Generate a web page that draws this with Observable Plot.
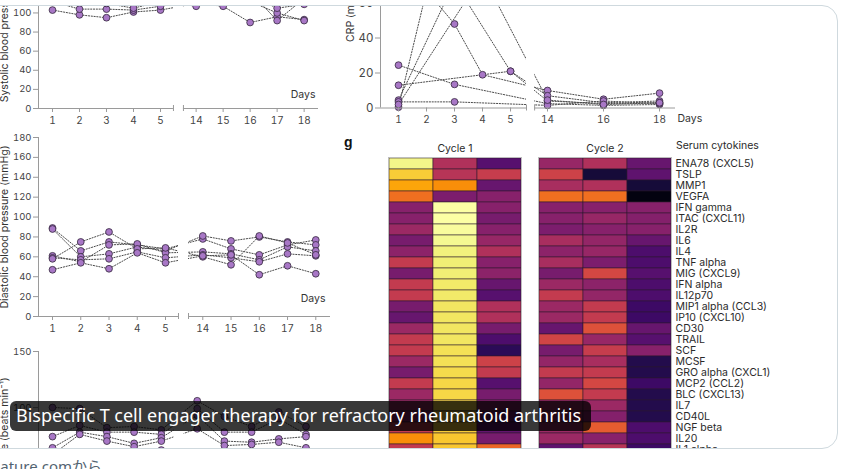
<!DOCTYPE html>
<html><head><meta charset="utf-8">
<script src="https://cdn.jsdelivr.net/npm/d3@7"></script>
<script src="https://cdn.jsdelivr.net/npm/@observablehq/plot@0.6"></script>
<style>
html,body{margin:0;padding:0;background:#fff;width:841px;height:469px;overflow:hidden;}
#stage{position:relative;width:841px;height:469px;overflow:hidden;font-family:Inter,"Noto Sans",sans-serif;}
#card{position:absolute;left:-20px;top:5px;width:858px;height:444px;border:1px solid #cfd9de;border-radius:16px;overflow:hidden;box-sizing:border-box;background:#fff;}
#fig{position:absolute;left:19px;top:-6px;width:841px;height:469px;}
#fig svg{position:absolute;overflow:visible;}
.txt{position:absolute;white-space:nowrap;}
#cap{position:absolute;left:10px;top:401px;width:581px;height:30px;background:rgba(0,0,0,0.78);border-radius:6px;color:#fff;font:18px "Noto Sans",sans-serif;line-height:29px;padding-left:6px;box-sizing:border-box;white-space:nowrap;overflow:hidden;}
#src{position:absolute;left:-9px;top:456px;font:15px "Noto Sans","Noto Sans CJK JP",sans-serif;color:#536471;line-height:20px;white-space:nowrap;}
</style></head>
<body><div id="stage">
<div id="card"><div id="fig"></div></div>
<div id="cap">Bispecific T cell engager therapy for refractory rheumatoid arthritis</div>
<div id="src">nature.comから</div>
</div>
<script>
// ---------- data ----------
const days = [1, 2, 3, 4, 5, 14, 15, 16, 17, 18];
const sysP1 = [103, 98, 95, 101, 103, 110, 107, 90, 96, 93];
const sysP2 = [112, 104, 104, 103, 107, 118, 114, 112, 100, 92];
const sysP3 = [120, 113, 110, 105, 112, 107, 120, 118, 105, 109];
const sysP4 = [128, 118, 124, 115, 120, 125, 128, 122, 92, 115];
const sysP5 = [135, 130, 122, 128, 131, 138, 130, 126, 118, 120];
const sysP6 = [118, 125, 116, 120, 118, 130, 122, 116, 122, 112];

const diaP1 = [89, 66, 75, 72, 68, 78, 68, 62, 72, 77];
const diaP2 = [88, 60, 63, 70, 66, 81, 76, 80, 75, 72];
const diaP3 = [61, 55, 72, 73, 64, 65, 63, 57, 70, 66];
const diaP4 = [59, 57, 58, 65, 59, 62, 59, 55, 63, 61];
const diaP5 = [58, 75, 85, 68, 69, 60, 52, 81, 74, 62];
const diaP6 = [47, 54, 48, 64, 54, 61, 62, 42, 51, 43];

const hrP1 = [100, 99, 82, 83, 80, 106, 92, 83, 96, 83];
const hrP2 = [74, 84, 78, 78, 76, 99, 78, 78, 90, 76];
const hrP3 = [64, 78, 74, 68, 73, 93, 70, 69, 72, 74];
const hrP4 = [58, 76, 70, 65, 70, 81, 66, 67, 69, 64];
const hrP5 = [55, 60, 58, 60, 62, 60, 58, 56, 60, 58];

const crpDays = [1, 2, 3, 4, 5, 14, 16, 18];
const crpP1 = [0.5, 67, 48, 19, null, 10, 5, 8.5];
const crpP2 = [4.5, null, 72, null, 21, 7, 3, 4];
const crpP3 = [24.5, null, 13.5, null, null, 2.5, 1.5, 2];
const crpP4 = [13, null, null, null, 21, 4, 2.5, 3];
const crpP5 = [3.5, null, 3.5, null, null, 1.5, 4, 2.5];
const crpP6 = [2, null, null, 76, null, 4.5, 2, 3];

const cytokines = ["ENA78 (CXCL5)", "TSLP", "MMP1", "VEGFA", "IFN gamma", "ITAC (CXCL11)", "IL2R", "IL6", "IL4",
  "TNF alpha", "MIG (CXCL9)", "IFN alpha", "IL12p70", "MIP1 alpha (CCL3)", "IP10 (CXCL10)", "CD30", "TRAIL", "SCF",
  "MCSF", "GRO alpha (CXCL1)", "MCP2 (CCL2)", "BLC (CXCL13)", "IL7", "CD40L", "NGF beta", "IL20", "IL1 alpha"];
const cycles = ["Cycle 1", "Cycle 2"];
const cyc1s1 = [0.97, 0.88, 0.80, 0.68, 0.37, 0.37, 0.42, 0.33, 0.38, 0.52, 0.33, 0.52, 0.52, 0.33, 0.29, 0.42, 0.52, 0.52, 0.42, 0.33, 0.52, 0.42, 0.42, 0.38, 0.52, 0.75, 0.52];
const cyc1s2 = [0.47, 0.49, 0.75, 0.34, 1.0, 1.0, 0.99, 0.98, 0.96, 0.95, 0.95, 0.94, 0.94, 0.93, 0.93, 0.93, 0.93, 0.92, 0.92, 0.91, 0.90, 0.90, 0.90, 0.89, 0.88, 0.87, 0.87];
const cyc1s3 = [0.25, 0.53, 0.29, 0.37, 0.37, 0.33, 0.37, 0.41, 0.47, 0.37, 0.38, 0.29, 0.25, 0.47, 0.47, 0.33, 0.23, 0.15, 0.55, 0.52, 0.25, 0.33, 0.36, 0.30, 0.28, 0.33, 0.66];
const cyc2s1 = [0.41, 0.55, 0.45, 0.68, 0.37, 0.37, 0.34, 0.45, 0.38, 0.45, 0.33, 0.42, 0.52, 0.42, 0.42, 0.29, 0.56, 0.33, 0.40, 0.52, 0.40, 0.60, 0.42, 0.40, 0.42, 0.42, 0.27];
const cyc2s2 = [0.47, 0.10, 0.47, 0.68, 0.37, 0.41, 0.37, 0.40, 0.41, 0.34, 0.57, 0.38, 0.40, 0.52, 0.52, 0.60, 0.41, 0.53, 0.45, 0.52, 0.57, 0.52, 0.42, 0.36, 0.63, 0.37, 0.49];
const cyc2s3 = [0.29, 0.27, 0.10, 0.03, 0.37, 0.36, 0.37, 0.29, 0.23, 0.23, 0.25, 0.23, 0.23, 0.19, 0.19, 0.29, 0.25, 0.37, 0.13, 0.13, 0.19, 0.13, 0.13, 0.13, 0.23, 0.23, 0.19];

// ---------- helpers ----------
const gapUnits = 0.32;
const pos = d => d <= 5 ? d : d - 14 + 6 + gapUnits;
const toRows = (list, dl) => list.flatMap(([id, vals]) =>
  vals.map((v, i) => ({patient: id, day: dl[i], value: v})).filter(d => d.value != null));
const fig = document.getElementById("fig");
const font = "Inter, 'Noto Sans', sans-serif";

function panel(o) {
  const frameH = o.height - o.marginTop - 30;
  const ppu = frameH / (o.yDomain[1] - o.yDomain[0]);
  const rows = toRows(o.series, o.days);
  const labelOf = new Map(o.tickDays.map(d => [pos(d), String(d)]));
  const axisCol = "#9a9a9a";
  const marks = [
    Plot.ruleX([o.xDomain[0]], {stroke: axisCol, strokeWidth: 1}),
    Plot.line(rows, {x: d => pos(d.day), y: "value", z: "patient", stroke: "#4a4a4a", strokeWidth: 1, strokeDasharray: "1.2,1.6"}),
    Plot.rect([o.breaks], {x1: b => b[0], x2: b => b[1], fill: "#fff"}),
    Plot.dot(rows, {x: d => pos(d.day), y: "value", r: 3.4, fill: "#a877c6", stroke: "#35283d", strokeWidth: 0.8}),
    Plot.ruleY([[o.xDomain[0], o.breaks[0]], [o.breaks[1], o.xDomain[1]]], {x1: s => s[0], x2: s => s[1], y: o.yDomain[0], stroke: axisCol}),
    Plot.ruleX(o.breaks, {y1: -3 / ppu, y2: 3 / ppu, stroke: axisCol}),
    Plot.axisX(o.tickDays.map(pos), {tickFormat: p => labelOf.get(p), tickSize: 4, tickPadding: 4, stroke: axisCol, fill: "#444", fontSize: 10}),
    Plot.axisY(o.yTicks, {tickSize: 5, tickPadding: 2, stroke: axisCol, fill: "#444", fontSize: o.yFont || 9.5}),
    Plot.text([o.yLabel], {frameAnchor: "left", textAnchor: "middle", rotate: -90, dx: o.yLabelDx, fontSize: 10.5, fill: "#333"})
  ];
  if (o.daysLabel) marks.push(Plot.text(["Days"], {frameAnchor: "bottom-right", textAnchor: o.daysLabel.anchor, dx: o.daysLabel.dx, dy: o.daysLabel.dy, fontSize: 10.5, fill: "#333"}));
  const svg = Plot.plot({
    width: o.width, height: o.height,
    marginLeft: o.marginLeft, marginRight: o.width - o.marginLeft - o.frameW, marginTop: o.marginTop, marginBottom: 30,
    style: {fontFamily: font, background: "transparent", overflow: "visible"},
    x: {domain: o.xDomain, label: null},
    y: {domain: o.yDomain, label: null},
    marks
  });
  svg.style.left = o.left + "px";
  svg.style.top = o.top + "px";
  fig.appendChild(svg);
}

// Systolic
panel({series: [["P1", sysP1], ["P2", sysP2], ["P3", sysP3], ["P4", sysP4], ["P5", sysP5], ["P6", sysP6]], days,
  left: 0, top: -74, width: 340, height: 212, marginLeft: 38, marginTop: 10, frameW: 280,
  xDomain: [0.4815, 10.852], yDomain: [0, 180], yTicks: d3.range(0, 181, 20), tickDays: days,
  breaks: [5.48, 5.85], yLabel: "Systolic blood pressure (mmHg)", yLabelDx: -34,
  daysLabel: {anchor: "end", dx: -3, dy: -11}});
// Diastolic
panel({series: [["P1", diaP1], ["P2", diaP2], ["P3", diaP3], ["P4", diaP4], ["P5", diaP5], ["P6", diaP6]], days,
  left: 0, top: 127, width: 345, height: 219, marginLeft: 38, marginTop: 10, frameW: 292,
  xDomain: [0.504, 10.841], yDomain: [0, 180], yTicks: d3.range(0, 181, 20), tickDays: days,
  breaks: [5.46, 5.815], yLabel: "Diastolic blood pressure (mmHg)", yLabelDx: -34,
  daysLabel: {anchor: "end", dx: -5, dy: -15}});
// Heart rate
panel({series: [["P1", hrP1], ["P2", hrP2], ["P3", hrP3], ["P4", hrP4], ["P5", hrP5]], days,
  left: 0, top: 341, width: 340, height: 208, marginLeft: 38, marginTop: 10, frameW: 283,
  xDomain: [0.485, 10.89], yDomain: [0, 150], yTicks: [0, 50, 100, 150], tickDays: days,
  breaks: [5.47, 5.84], yLabel: "Heart rate (beats min\u207B\u00B9)", yLabelDx: -34,
  daysLabel: {anchor: "end", dx: -5, dy: -15}});
// CRP
panel({series: [["P1", crpP1], ["P2", crpP2], ["P3", crpP3], ["P4", crpP4], ["P5", crpP5], ["P6", crpP6]], days: crpDays,
  left: 330, top: -95.5, width: 385, height: 232.5, marginLeft: 50, marginTop: 10, frameW: 295,
  xDomain: [0.357, 10.89], yDomain: [0, 110], yTicks: d3.range(0, 101, 20), tickDays: crpDays, yFont: 11.5,
  breaks: [5.57, 5.86], yLabel: "CRP (mg l\u207B\u00B9)", yLabelDx: -30,
  daysLabel: {anchor: "start", dx: 2, dy: 14}});

// Heatmap
const heatCols = [["Cycle 1", 1, cyc1s1], ["Cycle 1", 2, cyc1s2], ["Cycle 1", 3, cyc1s3],
                  ["Cycle 2", 1, cyc2s1], ["Cycle 2", 2, cyc2s2], ["Cycle 2", 3, cyc2s3]];
const heatRows = heatCols.flatMap(([cycle, sample, vals]) => vals.map((v, i) => ({cycle, sample, cytokine: cytokines[i], value: v})));
const rowH = 11.1;
const heat = Plot.plot({
  width: 498, height: 27 + cytokines.length * rowH + 5,
  marginLeft: 48, marginRight: 166, marginTop: 27, marginBottom: 5,
  style: {fontFamily: font, fontSize: "10.5px", color: "#2a2a2a", background: "transparent", overflow: "visible"},
  fx: {domain: cycles, paddingInner: 0.113, paddingOuter: 0, axis: "top", label: null, tickSize: 0, tickPadding: 5},
  x: {domain: [1, 2, 3], axis: null, padding: 0},
  y: {domain: cytokines, padding: 0, axis: "right", label: null, tickSize: 0, tickPadding: 4},
  color: {type: "linear", scheme: "inferno", domain: [0, 1]},
  marks: [
    Plot.cell(heatRows, {fx: "cycle", x: "sample", y: "cytokine", fill: "value", stroke: "#2b1a2e", strokeWidth: 0.6, strokeOpacity: 0.9}),
    Plot.frame({stroke: "#bdbdbd"})
  ]
});
heat.style.left = "340px";
heat.style.top = "130px";
fig.appendChild(heat);

// extra texts
const addText = (t, css) => { const d = document.createElement("div"); d.className = "txt"; d.textContent = t; d.style.cssText += css; fig.appendChild(d); };
addText("Serum cytokines", "left:676px;top:139px;font:10.5px " + font + ";color:#2a2a2a;");
addText("g", "left:344px;top:134px;font:bold 14px 'Liberation Sans',Arial,sans-serif;color:#111;");
</script>
</body></html>
